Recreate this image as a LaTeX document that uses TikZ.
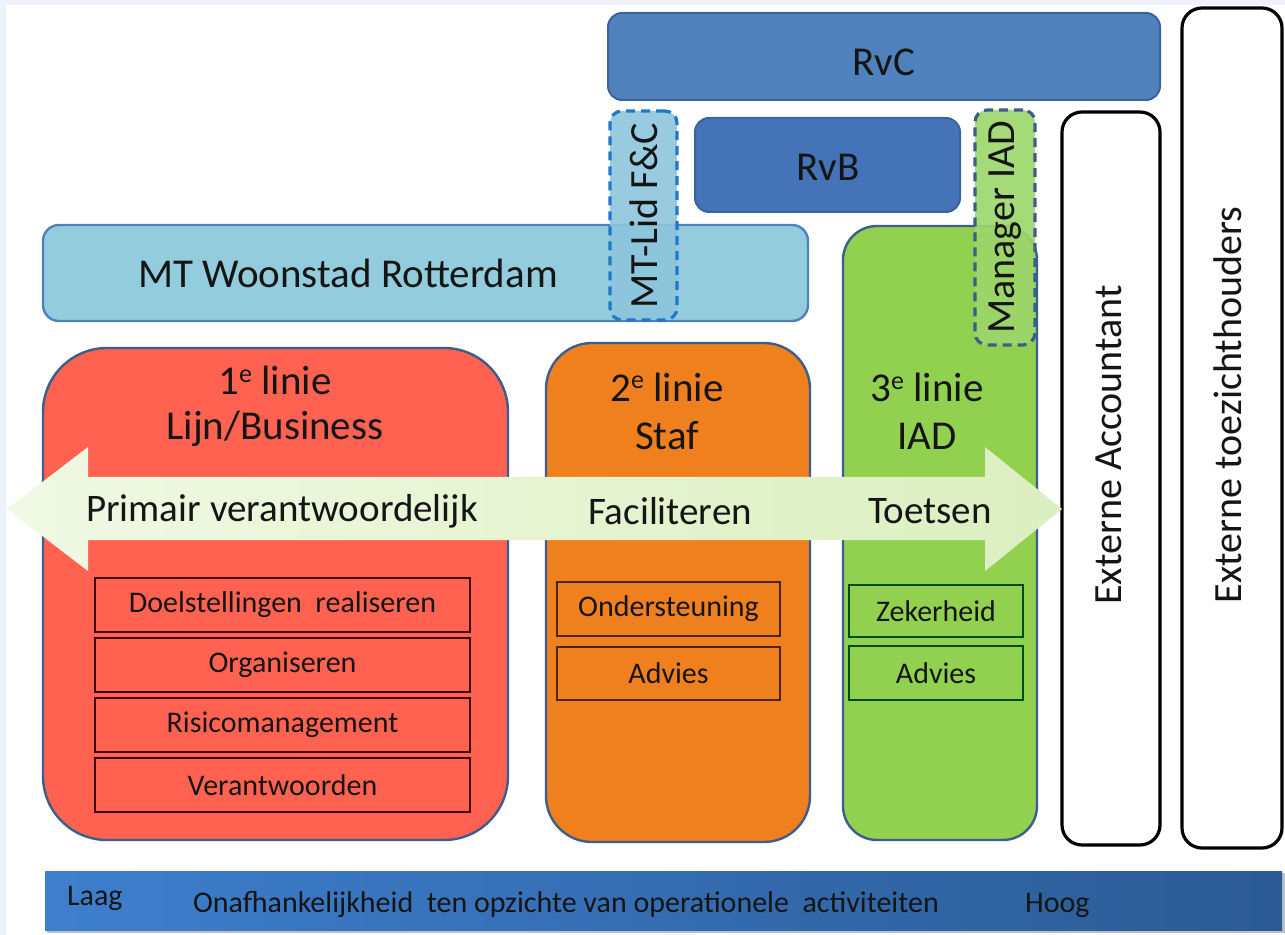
\documentclass[tikz,border=0pt]{standalone}
\usepackage{fontspec}
\setmainfont{Carlito}
\usetikzlibrary{fit}
\definecolor{bgl}{HTML}{EEF2FA}
\definecolor{rvc}{HTML}{4F81BD}
\definecolor{rvb}{HTML}{4473B8}
\definecolor{dkb}{HTML}{3A6399}
\definecolor{mtf}{HTML}{93CDDD}
\definecolor{redf}{HTML}{FF6251}
\definecolor{orf}{HTML}{F0801E}
\definecolor{grf}{HTML}{92D050}
\definecolor{lnb}{HTML}{3B5E8C}
\definecolor{mtlid}{HTML}{8DC6DC}
\definecolor{mtlidb}{HTML}{1F78C8}
\definecolor{mgrf}{HTML}{9CD66B}
\definecolor{arl}{HTML}{F0F9E4}
\definecolor{arr}{HTML}{DCEFC0}
\definecolor{barl}{HTML}{3E7FCE}
\definecolor{barr}{HTML}{2B5A94}
\definecolor{txt}{HTML}{151515}
\newcommand{\supe}{\raisebox{0.62ex}{\fontsize{13}{13}\selectfont e}}
\tikzset{
  x=0.5pt, y=-0.5pt,
  area/.style={inner sep=0pt, outer sep=0pt},
  bluebox/.style={area, draw=dkb, line width=1pt, rounded corners=7pt},
  linebox/.style={area, draw=lnb, line width=1.2pt},
  extbox/.style={area, draw=black, fill=white, line width=1.6pt, rounded corners=10pt},
  dashbox/.style={area, line width=1.6pt, dash pattern=on 4.5pt off 3pt, rounded corners=6pt},
  subbox/.style={area, line width=0.8pt},
  big/.style={font=\fontsize{20.5}{25}\selectfont, text=txt, align=center},
  arrtxt/.style={font=\fontsize{19.5}{24}\selectfont, text=txt},
  vert/.style={font=\fontsize{20}{24}\selectfont, text=txt, rotate=90},
  small/.style={font=\fontsize{15}{18}\selectfont, text=txt},
  bar/.style={font=\fontsize{15}{18}\selectfont, text=txt, anchor=west},
}
\begin{document}
\begin{tikzpicture}
% background
\fill[bgl] (0,0) rectangle (1285,935);
\fill[white] (6,5) rectangle (1285,935);
\useasboundingbox (0,0) rectangle (1285,935);

% top boxes
\node[bluebox, fill=rvc, fit={(608,13)(1160,100)}] (rvc) {};
\node[big] at (884,62) {RvC};
\node[extbox, fit={(1182,8)(1282,848)}] (ext2) {};
\node[vert] at (1228,405) {Externe toezichthouders};
\node[extbox, fit={(1062,112)(1160,845)}] (ext1) {};
\node[vert] at (1109,445) {Externe Accountant};
\node[bluebox, fill=rvb, fit={(695,118)(960,212)}] (rvb) {};
\node[big] at (828,167) {RvB};
\node[area, draw=rvc, line width=1.2pt, rounded corners=8pt, fill=mtf, fit={(43,225)(808,321)}] (mt) {};
\node[big] at (348,273) {MT Woonstad Rotterdam};

% lines
\node[linebox, fill=grf, rounded corners=17pt, fit={(843,226)(1037,840)}] (l3) {};
\node[linebox, fill=redf, rounded corners=32pt, fit={(43,348)(508,840)}] (l1) {};
\node[linebox, fill=orf, rounded corners=23pt, fit={(546,343)(810,842)}] (l2) {};
\node[big, font=\fontsize{20.5}{22.5}\selectfont] (t1) at (275,406) {1\supe{} linie\\Lijn/Business};
\node[big, font=\fontsize{20.5}{24}\selectfont] (t2) at (667,411) {2\supe{} linie\\Staf};
\node[big, font=\fontsize{20.5}{24}\selectfont] (t3) at (927,411) {3\supe{} linie\\IAD};

% dashed boxes
\node[dashbox, draw=mtlidb, fill=mtlid, fill opacity=0.9, fit={(610,111)(677,320)}] (mtlid) {};
\node[vert] at (mtlid.center) {MT-Lid F\&C};
\node[dashbox, draw=lnb, fill=mgrf, fill opacity=0.9, fit={(975,110)(1035,345)}] (mgr) {};
\node[vert] at (mgr.center) {Manager IAD};

% double arrow
\shade[left color=arl, right color=arr]
  (7,509) -- (88,447) -- (88,477) -- (985,477) -- (985,447) -- (1062,509)
  -- (985,571) -- (985,540) -- (88,540) -- (88,571) -- cycle;
\node[arrtxt] at (282,511) {Primair verantwoordelijk};
\node[arrtxt] at (670,511) {Faciliteren};
\node[arrtxt] at (930,511) {Toetsen};

% sub boxes 1e linie
\node[subbox, draw=black!75!red, fill=redf, fit={(95,578)(470,632)}] (s11) {};
\node[small] at (s11.center) {Doelstellingen~ realiseren};
\node[subbox, draw=black!75!red, fill=redf, fit={(95,638)(470,692)}] (s12) {};
\node[small] at (s12.center) {Organiseren};
\node[subbox, draw=black!75!red, fill=redf, fit={(95,698)(470,752)}] (s13) {};
\node[small] at (s13.center) {Risicomanagement};
\node[subbox, draw=black!75!red, fill=redf, fit={(95,758)(470,812)}] (s14) {};
\node[small] at (s14.center) {Verantwoorden};
% 2e linie
\node[subbox, draw=black!70!orange, fill=orf, fit={(557,582)(780,636)}] (s21) {};
\node[small] at (s21.center) {Ondersteuning};
\node[subbox, draw=black!70!orange, fill=orf, fit={(557,647)(780,700)}] (s22) {};
\node[small] at (s22.center) {Advies};
% 3e linie
\node[subbox, draw=black!70!green, fill=grf, fit={(849,585)(1023,637)}] (s31) {};
\node[small] at (s31.center) {Zekerheid};
\node[subbox, draw=black!70!green, fill=grf, fit={(849,646)(1023,700)}] (s32) {};
\node[small] at (s32.center) {Advies};

% bottom bar
\fill[black!25] (47,873) rectangle (1285,933);
\node[area, left color=barl, right color=barr, fit={(45,871)(1282,930)}] (bar) {};
\node[bar] at (60,898) {Laag};
\node[bar] at (186,905) {Onafhankelijkheid~ ten opzichte van operationele~ activiteiten};
\node[bar] at (1018,905) {Hoog};
\end{tikzpicture}
\end{document}
